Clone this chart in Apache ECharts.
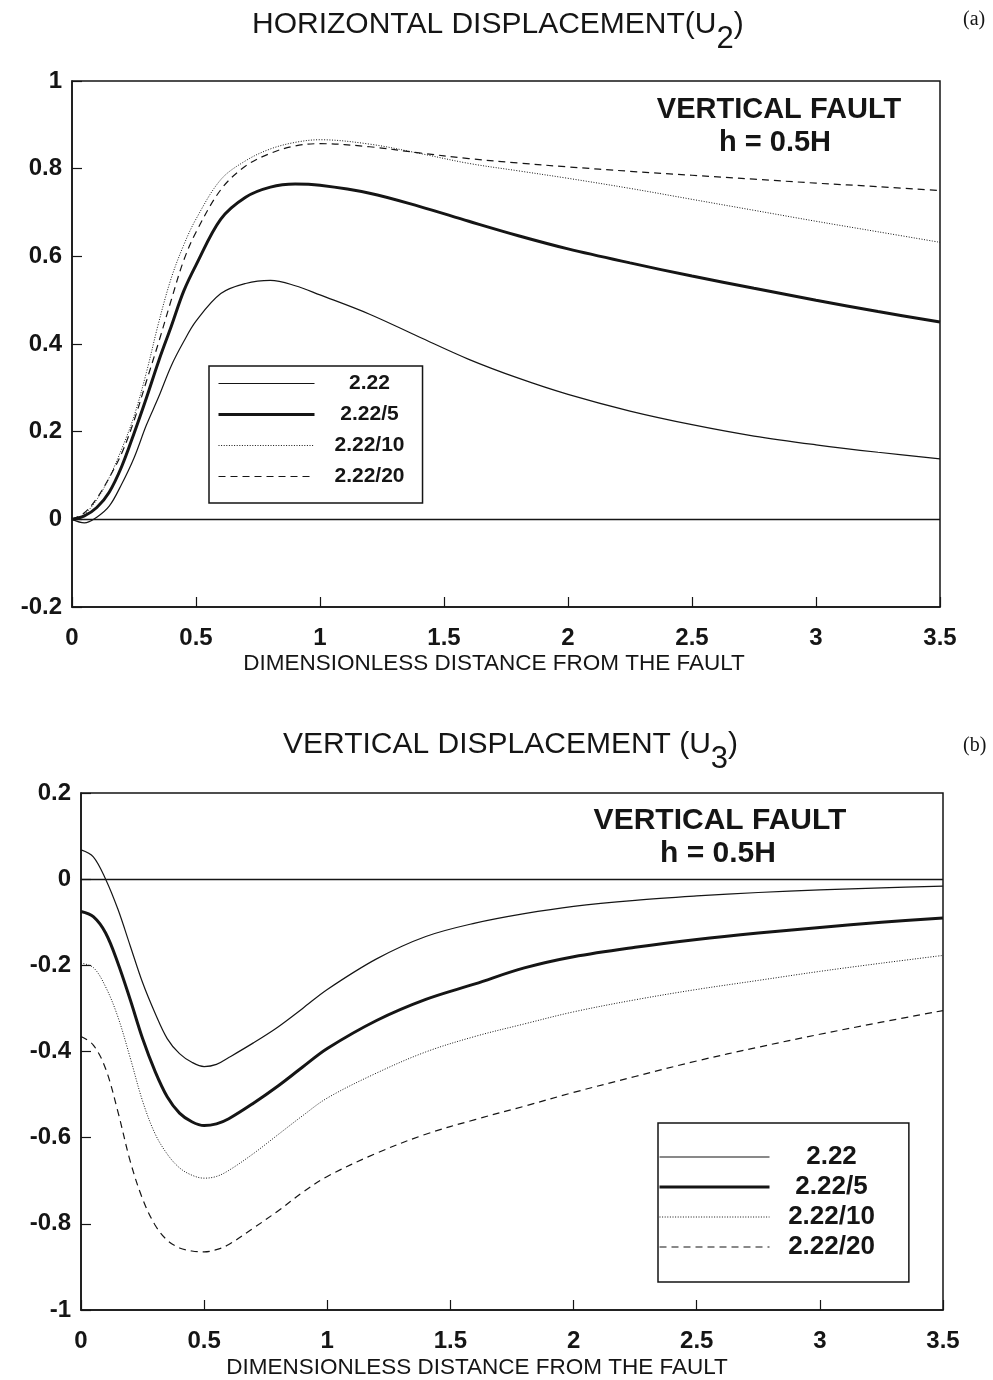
<!DOCTYPE html>
<html>
<head>
<meta charset="utf-8">
<script src="https://cdn.jsdelivr.net/npm/echarts@6.0.0/dist/echarts.min.js"></script>
<style>
  html, body { margin: 0; background: #fff; }
  #chart { width: 993px; height: 1380px; }
</style>
</head>
<body>
<div id="chart"></div>
<script>
// distances along the surface (dimensionless)
const distTop = [0, 0.05, 0.1, 0.15, 0.2, 0.25, 0.3, 0.35, 0.4, 0.45, 0.5, 0.6, 0.7, 0.8, 0.9, 1.0,
  1.2, 1.4, 1.6, 1.8, 2.0, 2.25, 2.5, 2.75, 3.0, 3.25, 3.5];
const distBottom = [0, 0.05, 0.1, 0.15, 0.2, 0.25, 0.3, 0.35, 0.4, 0.45, 0.5, 0.55, 0.6, 0.7, 0.8, 0.9, 1.0,
  1.2, 1.4, 1.6, 1.8, 2.0, 2.25, 2.5, 2.75, 3.0, 3.25, 3.5];

const names = ['2.22', '2.22/5', '2.22/10', '2.22/20'];

// (a) horizontal displacement U2
const u2_222 = [0, -0.008, 0.005, 0.03, 0.08, 0.14, 0.215, 0.28, 0.35, 0.405, 0.452, 0.515, 0.538, 0.545, 0.533, 0.512,
  0.468, 0.416, 0.365, 0.322, 0.285, 0.247, 0.216, 0.19, 0.17, 0.153, 0.138];
const u2_5 = [0, 0.008, 0.027, 0.062, 0.12, 0.196, 0.277, 0.362, 0.44, 0.52, 0.58, 0.685, 0.735, 0.758, 0.765, 0.762,
  0.744, 0.714, 0.68, 0.647, 0.617, 0.585, 0.555, 0.527, 0.5, 0.474, 0.45];
const u2_10 = [0, 0.012, 0.045, 0.095, 0.16, 0.235, 0.335, 0.45, 0.55, 0.625, 0.685, 0.775, 0.818, 0.845, 0.86, 0.866,
  0.856, 0.835, 0.812, 0.795, 0.778, 0.755, 0.73, 0.705, 0.68, 0.656, 0.632];
const u2_20 = [0, 0.015, 0.048, 0.095, 0.15, 0.225, 0.315, 0.405, 0.5, 0.59, 0.655, 0.752, 0.806, 0.835, 0.852, 0.857,
  0.85, 0.836, 0.823, 0.813, 0.804, 0.794, 0.785, 0.776, 0.767, 0.759, 0.75];

// (b) vertical displacement U3
const u3_222 = [0.068, 0.052, 0.0, -0.07, -0.155, -0.24, -0.31, -0.37, -0.405, -0.425, -0.435, -0.43, -0.414, -0.38,
  -0.343, -0.3, -0.256, -0.185, -0.133, -0.102, -0.08, -0.063, -0.049, -0.039, -0.031, -0.025, -0.02, -0.016];
const u3_5 = [-0.075, -0.087, -0.125, -0.195, -0.28, -0.37, -0.445, -0.505, -0.543, -0.563, -0.572, -0.568, -0.556, -0.52,
  -0.48, -0.436, -0.393, -0.328, -0.279, -0.243, -0.206, -0.18, -0.158, -0.14, -0.125, -0.112, -0.1, -0.09];
const u3_10 = [-0.195, -0.205, -0.25, -0.32, -0.415, -0.515, -0.59, -0.638, -0.67, -0.687, -0.694, -0.69, -0.676, -0.637,
  -0.593, -0.549, -0.508, -0.45, -0.401, -0.365, -0.336, -0.308, -0.28, -0.256, -0.235, -0.214, -0.195, -0.177];
const u3_20 = [-0.365, -0.385, -0.44, -0.54, -0.655, -0.742, -0.802, -0.838, -0.856, -0.863, -0.865, -0.86, -0.848, -0.81,
  -0.77, -0.727, -0.69, -0.636, -0.592, -0.558, -0.527, -0.495, -0.458, -0.422, -0.39, -0.36, -0.332, -0.305];

const font = '"Liberation Sans", Arial, Helvetica, sans-serif';
const ink = '#151515';

const lineStyles = {
  '2.22':    { width: 1.2, type: 'solid' },
  '2.22/5':  { width: 3, type: 'solid' },
  '2.22/10': { width: 1, type: [1, 1.6] },
  '2.22/20': { width: 1.2, type: [7, 5] }
};

function pairs(xs, ys) {
  return xs.map((x, i) => [x, ys[i]]);
}

function makeSeries(idx, xs, list) {
  return list.map((ys, k) => {
    const s = {
      name: names[k],
      type: 'line',
      xAxisIndex: idx,
      yAxisIndex: idx,
      data: pairs(xs, ys),
      smooth: 0.35,
      symbol: 'none',
      showSymbol: false,
      lineStyle: Object.assign({ color: ink }, lineStyles[names[k]]),
      itemStyle: { color: ink },
      z: 3
    };
    if (k === 0) {
      // the zero reference line across the plot
      s.markLine = {
        silent: true,
        symbol: 'none',
        label: { show: false },
        lineStyle: { color: ink, width: 1.3, type: 'solid' },
        data: [{ yAxis: 0 }]
      };
    }
    return s;
  });
}

function xAxisCfg(grid, gap, shift) {
  return {
    type: 'value', gridIndex: grid, min: 0, max: 3.5, interval: 0.5,
    axisLine: { show: true, onZero: false, lineStyle: { color: ink, width: 1.5 } },
    axisTick: { show: true, inside: true, length: 10, lineStyle: { color: ink, width: 1.2 } },
    axisLabel: { margin: 19, fontSize: 24, fontWeight: 'bold', color: ink, fontFamily: font },
    splitLine: { show: false },
    name: 'DIMENSIONLESS DISTANCE FROM THE FAULT',
    nameLocation: 'middle',
    nameGap: gap,
    nameTextStyle: { fontSize: 22.5, color: ink, fontFamily: font, padding: [0, shift, 0, 0] }
  };
}

function yAxisCfg(grid, min, max) {
  return {
    type: 'value', gridIndex: grid, min: min, max: max, interval: 0.2,
    axisLine: { show: true, onZero: false, lineStyle: { color: ink, width: 1.5 } },
    axisTick: { show: true, inside: true, length: 10, lineStyle: { color: ink, width: 1.2 } },
    axisLabel: { margin: 10, fontSize: 24, fontWeight: 'bold', color: ink, fontFamily: font },
    splitLine: { show: false }
  };
}

function legendCfg(left, top, itemWidth, gap, pad, textWidth, fontSize) {
  return {
    orient: 'vertical', left: left, top: top,
    itemWidth: itemWidth, itemHeight: 14, itemGap: gap,
    padding: pad,
    borderColor: ink, borderWidth: 1.5,
    selectedMode: false,
    itemStyle: { opacity: 0 },
    data: names.map(n => ({
      name: n,
      lineStyle: { color: ink, width: lineStyles[n].width, type: lineStyles[n].type },
      itemStyle: { opacity: 0 }
    })),
    formatter: n => '{t|' + n + '}',
    textStyle: {
      rich: { t: { width: textWidth, align: 'center', fontSize: fontSize, fontWeight: 'bold', color: ink, fontFamily: font } }
    }
  };
}

function caption(x, y, size, txt) {
  return {
    type: 'text', x: x, y: y,
    style: { text: txt, fill: ink, font: 'bold ' + size + 'px ' + font, align: 'center', verticalAlign: 'middle' }
  };
}

function heading(left, top, main, sub) {
  return {
    type: 'text', left: left, top: top,
    style: {
      text: '{a|' + main + '}{b|' + sub + '}{a|)}',
      fill: ink,
      rich: {
        a: { fontSize: 30, lineHeight: 30, verticalAlign: 'top', fontFamily: font, fill: ink },
        b: { fontSize: 31, lineHeight: 45, verticalAlign: 'bottom', fontFamily: font, fill: ink }
      }
    }
  };
}

const chart = echarts.init(document.getElementById('chart'), null, { renderer: 'canvas' });

const option = {
  backgroundColor: '#fff',
  animation: false,
  grid: [
    { left: 72, top: 81, width: 868, height: 526, show: true, borderColor: ink, borderWidth: 1.5, backgroundColor: 'transparent' },
    { left: 81, top: 793, width: 862, height: 520, show: true, borderColor: ink, borderWidth: 1.5, backgroundColor: 'transparent' }
  ],
  xAxis: [xAxisCfg(0, 45, 24), xAxisCfg(1, 46, 70)],
  yAxis: [yAxisCfg(0, -0.2, 1), yAxisCfg(1, -1, 0.2)],
  legend: [
    legendCfg(209, 366, 96, 10, [7, 18, 16, 8], 100, 21),
    legendCfg(658, 1123, 110, 4, [21, 34, 22, 0], 114, 26)
  ],
  graphic: [
    heading(252, 10, 'HORIZONTAL DISPLACEMENT(U', '2'),
    heading(283, 730, 'VERTICAL DISPLACEMENT (U', '3'),
    { type: 'text', left: 963, top: 10, style: { text: '(a)', fill: ink, font: '20px "Liberation Serif", "Times New Roman", serif' } },
    { type: 'text', left: 963, top: 736, style: { text: '(b)', fill: ink, font: '20px "Liberation Serif", "Times New Roman", serif' } },
    caption(779, 110, 29, 'VERTICAL FAULT'),
    caption(775, 143, 29, 'h = 0.5H'),
    caption(720, 821, 30, 'VERTICAL FAULT'),
    caption(718, 854, 30, 'h = 0.5H')
  ],
  series: [].concat(
    makeSeries(0, distTop, [u2_222, u2_5, u2_10, u2_20]),
    makeSeries(1, distBottom, [u3_222, u3_5, u3_10, u3_20])
  )
};

chart.setOption(option);
</script>
</body>
</html>
